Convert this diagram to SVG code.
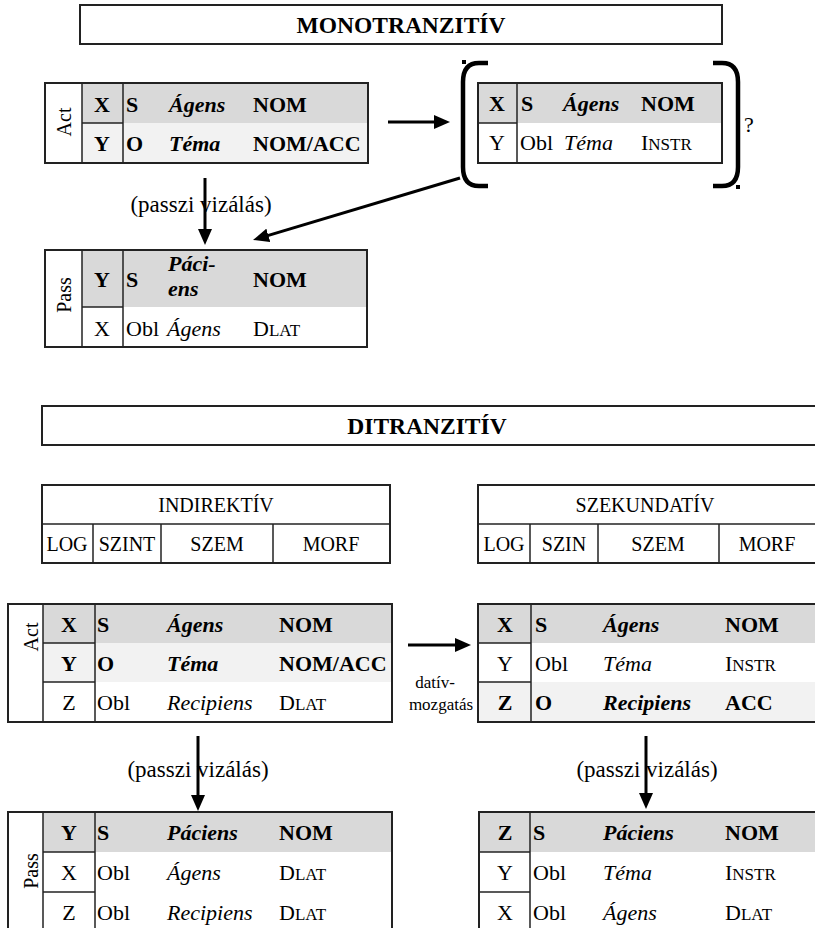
<svg xmlns="http://www.w3.org/2000/svg" width="815" height="928" viewBox="0 0 815 928">
<defs>
<style>
.tx{font-family:'Liberation Serif','Times New Roman',serif;font-size:22px;fill:#000}
.b{font-weight:bold}
.i{font-style:italic}
.sm{font-size:17px}
.lbl{font-size:20px}
.ttl{font-size:23.5px}
.pz{font-size:23px}
.mid{text-anchor:middle}
.bd{fill:none;stroke:#222;stroke-width:2}
.ln{stroke:#222;stroke-width:1.5;fill:none}
.g1{fill:#d9d9d9}
.g2{fill:#f2f2f2}
.wh{fill:#fff}
.arr{stroke:#000;stroke-width:3;fill:none}
.brk{stroke:#000;stroke-width:4.5;fill:none}
</style>
<marker id="ah" viewBox="0 0 16 14" refX="6" refY="7" markerWidth="16" markerHeight="14" orient="auto" markerUnits="userSpaceOnUse">
<path d="M0,0 L16,7 L0,14 z" fill="#000"/>
</marker>
</defs>
<rect width="815" height="928" fill="#fff"/>

<g id="title-mono">
<rect x="80" y="5" width="642" height="39" class="bd"/>
<text x="401" y="33" class="tx b mid ttl">MONOTRANZITÍV</text>
</g>

<g id="mono-act">
<rect x="45" y="83" width="323" height="80" class="wh"/>
<rect x="82" y="83" width="286" height="40" class="g1"/>
<rect x="82" y="123" width="286" height="40" class="g2"/>
<line x1="82" y1="83" x2="82" y2="163" class="ln"/>
<line x1="123" y1="83" x2="123" y2="163" class="ln"/>
<line x1="82" y1="123" x2="123" y2="123" class="ln"/>
<rect x="45" y="83" width="323" height="80" class="bd"/>
<text transform="translate(71,122) rotate(-90)" class="tx mid lbl">Act</text>
<text x="102" y="112" class="tx b mid">X</text>
<text x="126" y="112" class="tx b">S</text>
<text x="169" y="112" class="tx b i">Ágens</text>
<text x="253" y="112" class="tx b">NOM</text>
<text x="102" y="151" class="tx b mid">Y</text>
<text x="126" y="151" class="tx b">O</text>
<text x="169" y="151" class="tx b i">Téma</text>
<text x="253" y="151" class="tx b">NOM/ACC</text>
</g>

<g id="mono-alt">
<rect x="478" y="83" width="244" height="40" class="g1"/>
<rect x="478" y="123" width="244" height="40" class="wh"/>
<line x1="517" y1="83" x2="517" y2="163" class="ln"/>
<line x1="478" y1="123" x2="517" y2="123" class="ln"/>
<rect x="478" y="83" width="244" height="80" class="bd"/>
<text x="497" y="111" class="tx b mid">X</text>
<text x="521" y="111" class="tx b">S</text>
<text x="563" y="111" class="tx b i">Ágens</text>
<text x="641" y="111" class="tx b">NOM</text>
<text x="497" y="150" class="tx mid">Y</text>
<text x="520" y="150" class="tx">Obl</text>
<text x="564" y="150" class="tx i">Téma</text>
<text x="641" y="150" class="tx">I<tspan class="sm">NSTR</tspan></text>
<path d="M488,63 L479,63 Q463,63 463,82 L463,167 Q463,186 479,186 L488,186" class="brk"/>
<path d="M713,63 L722,63 Q738,63 738,82 L738,167 Q738,186 722,186 L713,186" class="brk"/>
<rect x="462" y="60" width="4" height="4" fill="#000"/>
<rect x="736" y="185" width="4" height="4" fill="#000"/>
<text x="744" y="132" class="tx">?</text>
</g>

<g id="mono-pass">
<rect x="45" y="250" width="322" height="97" class="wh"/>
<rect x="82" y="250" width="285" height="57" class="g1"/>
<line x1="82" y1="250" x2="82" y2="347" class="ln"/>
<line x1="123" y1="250" x2="123" y2="347" class="ln"/>
<line x1="82" y1="307" x2="123" y2="307" class="ln"/>
<rect x="45" y="250" width="322" height="97" class="bd"/>
<text transform="translate(71,295) rotate(-90)" class="tx mid lbl">Pass</text>
<text x="102" y="287" class="tx b mid">Y</text>
<text x="126" y="287" class="tx b">S</text>
<text x="168" y="271" class="tx b i">Páci-</text>
<text x="168" y="296" class="tx b i">ens</text>
<text x="253" y="287" class="tx b">NOM</text>
<text x="102" y="336" class="tx mid">X</text>
<text x="126" y="336" class="tx">Obl</text>
<text x="167" y="336" class="tx i">Ágens</text>
<text x="253" y="336" class="tx">D<tspan class="sm">LAT</tspan></text>
</g>

<g id="title-di">
<rect x="42" y="406" width="800" height="39" class="bd"/>
<text x="427" y="434" class="tx b mid ttl">DITRANZITÍV</text>
</g>

<g id="head-indirektiv">
<rect x="42" y="485" width="348" height="78" class="bd"/>
<line x1="42" y1="524" x2="390" y2="524" class="ln"/>
<line x1="93" y1="524" x2="93" y2="563" class="ln"/>
<line x1="161" y1="524" x2="161" y2="563" class="ln"/>
<line x1="273" y1="524" x2="273" y2="563" class="ln"/>
<text x="216" y="512" class="tx mid lbl">INDIREKTÍV</text>
<text x="67" y="551" class="tx mid lbl">LOG</text>
<text x="127" y="551" class="tx mid lbl">SZINT</text>
<text x="217" y="551" class="tx mid lbl">SZEM</text>
<text x="331" y="551" class="tx mid lbl">MORF</text>
</g>

<g id="head-szekundativ">
<rect x="478" y="485" width="360" height="78" class="bd"/>
<line x1="478" y1="524" x2="838" y2="524" class="ln"/>
<line x1="530" y1="524" x2="530" y2="563" class="ln"/>
<line x1="598" y1="524" x2="598" y2="563" class="ln"/>
<line x1="719" y1="524" x2="719" y2="563" class="ln"/>
<text x="645" y="512" class="tx mid lbl">SZEKUNDATÍV</text>
<text x="504" y="551" class="tx mid lbl">LOG</text>
<text x="564" y="551" class="tx mid lbl">SZIN</text>
<text x="658" y="551" class="tx mid lbl">SZEM</text>
<text x="767" y="551" class="tx mid lbl">MORF</text>
</g>

<g id="di-act">
<rect x="8" y="604" width="384" height="118" class="wh"/>
<rect x="43" y="604" width="349" height="39" class="g1"/>
<rect x="43" y="643" width="349" height="39" class="g2"/>
<line x1="43" y1="604" x2="43" y2="722" class="ln"/>
<line x1="95" y1="604" x2="95" y2="722" class="ln"/>
<line x1="43" y1="643" x2="95" y2="643" class="ln"/>
<line x1="43" y1="682" x2="95" y2="682" class="ln"/>
<rect x="8" y="604" width="384" height="118" class="bd"/>
<text transform="translate(38,637) rotate(-90)" class="tx mid lbl">Act</text>
<text x="69" y="632" class="tx b mid">X</text>
<text x="97" y="632" class="tx b">S</text>
<text x="167" y="632" class="tx b i">Ágens</text>
<text x="279" y="632" class="tx b">NOM</text>
<text x="69" y="671" class="tx b mid">Y</text>
<text x="97" y="671" class="tx b">O</text>
<text x="167" y="671" class="tx b i">Téma</text>
<text x="279" y="671" class="tx b">NOM/ACC</text>
<text x="69" y="710" class="tx mid">Z</text>
<text x="97" y="710" class="tx">Obl</text>
<text x="167" y="710" class="tx i">Recipiens</text>
<text x="279" y="710" class="tx">D<tspan class="sm">LAT</tspan></text>
</g>

<g id="di-sek-act">
<rect x="478" y="604" width="360" height="39" class="g1"/>
<rect x="478" y="643" width="360" height="39" class="wh"/>
<rect x="478" y="682" width="360" height="40" class="g2"/>
<line x1="531" y1="604" x2="531" y2="722" class="ln"/>
<line x1="478" y1="643" x2="531" y2="643" class="ln"/>
<line x1="478" y1="682" x2="531" y2="682" class="ln"/>
<rect x="478" y="604" width="360" height="118" class="bd"/>
<text x="505" y="632" class="tx b mid">X</text>
<text x="535" y="632" class="tx b">S</text>
<text x="603" y="632" class="tx b i">Ágens</text>
<text x="725" y="632" class="tx b">NOM</text>
<text x="505" y="671" class="tx mid">Y</text>
<text x="535" y="671" class="tx">Obl</text>
<text x="603" y="671" class="tx i">Téma</text>
<text x="725" y="671" class="tx">I<tspan class="sm">NSTR</tspan></text>
<text x="505" y="710" class="tx b mid">Z</text>
<text x="535" y="710" class="tx b">O</text>
<text x="603" y="710" class="tx b i">Recipiens</text>
<text x="725" y="710" class="tx b">ACC</text>
</g>

<g id="di-pass">
<rect x="8" y="812" width="384" height="130" class="wh"/>
<rect x="43" y="812" width="349" height="40" class="g1"/>
<line x1="43" y1="812" x2="43" y2="942" class="ln"/>
<line x1="95" y1="812" x2="95" y2="942" class="ln"/>
<line x1="43" y1="852" x2="95" y2="852" class="ln"/>
<line x1="43" y1="892" x2="95" y2="892" class="ln"/>
<rect x="8" y="812" width="384" height="130" class="bd"/>
<text transform="translate(38,871) rotate(-90)" class="tx mid lbl">Pass</text>
<text x="69" y="840" class="tx b mid">Y</text>
<text x="97" y="840" class="tx b">S</text>
<text x="167" y="840" class="tx b i">Páciens</text>
<text x="279" y="840" class="tx b">NOM</text>
<text x="69" y="880" class="tx mid">X</text>
<text x="97" y="880" class="tx">Obl</text>
<text x="167" y="880" class="tx i">Ágens</text>
<text x="279" y="880" class="tx">D<tspan class="sm">LAT</tspan></text>
<text x="69" y="920" class="tx mid">Z</text>
<text x="97" y="920" class="tx">Obl</text>
<text x="167" y="920" class="tx i">Recipiens</text>
<text x="279" y="920" class="tx">D<tspan class="sm">LAT</tspan></text>
</g>

<g id="di-sek-pass">
<rect x="479" y="812" width="360" height="40" class="g1"/>
<rect x="479" y="852" width="360" height="90" class="wh"/>
<line x1="530" y1="812" x2="530" y2="942" class="ln"/>
<line x1="479" y1="852" x2="530" y2="852" class="ln"/>
<line x1="479" y1="892" x2="530" y2="892" class="ln"/>
<rect x="479" y="812" width="360" height="130" class="bd"/>
<text x="505" y="840" class="tx b mid">Z</text>
<text x="533" y="840" class="tx b">S</text>
<text x="603" y="840" class="tx b i">Páciens</text>
<text x="725" y="840" class="tx b">NOM</text>
<text x="505" y="880" class="tx mid">Y</text>
<text x="533" y="880" class="tx">Obl</text>
<text x="603" y="880" class="tx i">Téma</text>
<text x="725" y="880" class="tx">I<tspan class="sm">NSTR</tspan></text>
<text x="505" y="920" class="tx mid">X</text>
<text x="533" y="920" class="tx">Obl</text>
<text x="603" y="920" class="tx i">Ágens</text>
<text x="725" y="920" class="tx">D<tspan class="sm">LAT</tspan></text>
</g>

<g id="connectors">
<line x1="388" y1="122" x2="440" y2="122" class="arr" marker-end="url(#ah)"/>
<line x1="460" y1="178" x2="262.6" y2="237.1" class="arr" marker-end="url(#ah)"/>
<line x1="205" y1="178" x2="205" y2="235" class="arr" marker-end="url(#ah)"/>
<text x="201" y="212" class="tx mid pz">(passzi vizálás)</text>
<line x1="408" y1="645" x2="461" y2="645" class="arr" marker-end="url(#ah)"/>
<text x="435" y="688" class="tx mid sm">datív-</text>
<text x="441" y="710" class="tx mid sm">mozgatás</text>
<line x1="198" y1="736" x2="198" y2="801" class="arr" marker-end="url(#ah)"/>
<text x="198" y="777" class="tx mid pz">(passzi vizálás)</text>
<line x1="646" y1="736" x2="646" y2="799" class="arr" marker-end="url(#ah)"/>
<text x="647" y="777" class="tx mid pz">(passzi vizálás)</text>
</g>
</svg>
